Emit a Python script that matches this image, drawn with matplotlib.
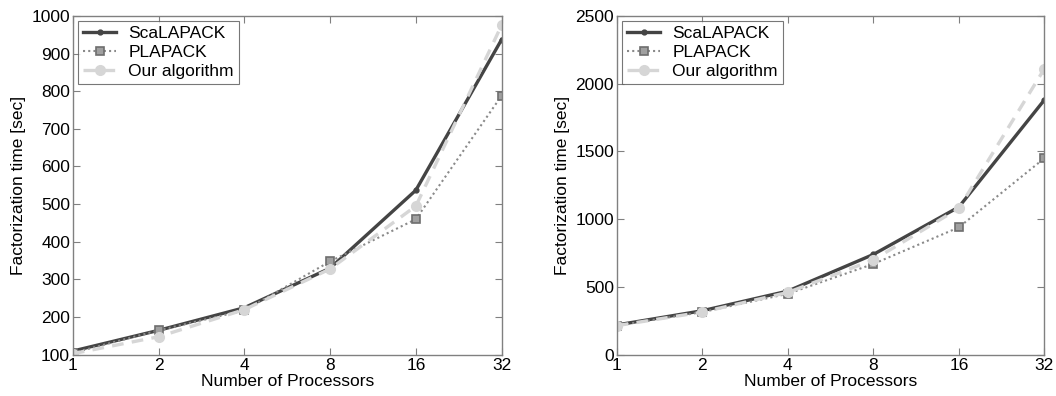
import matplotlib
matplotlib.use("Agg")
import matplotlib.pyplot as plt
from matplotlib.ticker import FixedLocator, FixedFormatter

plt.rcParams['font.family'] = ['Liberation Sans', 'DejaVu Sans']

procs = [1, 2, 4, 8, 16, 32]
proc_labels = ['1', '2', '4', '8', '16', '32']

# left panel
scalapack_a = [110, 165, 225, 330, 537, 937]
plapack_a = [105, 165, 218, 348, 460, 788]
ours_a = [103, 148, 220, 328, 495, 975]

# right panel
scalapack_b = [220, 325, 470, 740, 1090, 1880]
plapack_b = [215, 315, 450, 670, 940, 1450]
ours_b = [215, 315, 460, 700, 1080, 2110]

series_names = ['ScaLAPACK', 'PLAPACK', 'Our algorithm']

fig = plt.figure(figsize=(10.56, 3.96), dpi=100)
ax1 = fig.add_axes([0.069, 0.104, 0.406, 0.856])
ax2 = fig.add_axes([0.584, 0.104, 0.405, 0.856])

FS = 12.5


def draw(ax, s, p, o, ylim, yticks):
    ax.plot(procs, s, color='#444444', lw=2.4, marker='o', ms=3.5, label=series_names[0])
    ax.plot(procs, p, color='#8a8a8a', lw=1.5, ls=(0, (1, 1.5)), marker='s', ms=5.5,
            mfc='#a0a0a0', mec='#6e6e6e', mew=1.2, label=series_names[1])
    ax.plot(procs, o, color='#d6d6d6', lw=2.4, ls=(0, (3.5, 2.5)), marker='o', ms=7,
            mfc='#d6d6d6', mec='#d6d6d6', label=series_names[2])
    ax.set_xscale('log', base=2)
    ax.set_xlim(1, 32)
    ax.xaxis.set_major_locator(FixedLocator(procs))
    ax.xaxis.set_major_formatter(FixedFormatter(proc_labels))
    ax.xaxis.set_minor_locator(FixedLocator([]))
    ax.set_ylim(*ylim)
    ax.set_yticks(yticks)
    ax.tick_params(direction='in', top=True, right=True, labelsize=FS,
                   length=5, color='#808080', width=0.8, pad=2)
    for sp in ax.spines.values():
        sp.set_color('#808080')
        sp.set_linewidth(1.0)
    ax.set_xlabel('Number of Processors', fontsize=FS, labelpad=1)
    ax.set_ylabel('Factorization time [sec]', fontsize=FS, labelpad=4)
    leg = ax.legend(loc='upper left', fontsize=FS, frameon=True, fancybox=False,
                    borderaxespad=0.3, handlelength=1.9, handletextpad=0.7,
                    borderpad=0.3, labelspacing=0.2)
    leg.get_frame().set_edgecolor('#555555')
    leg.get_frame().set_linewidth(0.8)


draw(ax1, scalapack_a, plapack_a, ours_a, (100, 1000), range(100, 1001, 100))
draw(ax2, scalapack_b, plapack_b, ours_b, (0, 2500), range(0, 2501, 500))

fig.savefig('out.png', dpi=100)
